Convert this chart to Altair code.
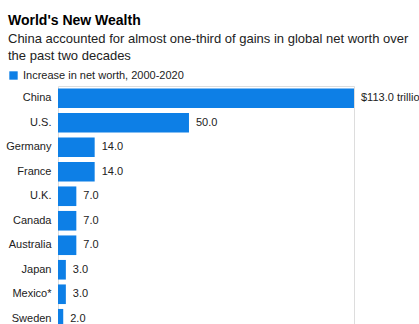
import altair as alt
import pandas as pd

countries = ["China", "U.S.", "Germany", "France", "U.K.", "Canada",
             "Australia", "Japan", "Mexico*", "Sweden"]
values = [113.0, 50.0, 14.0, 14.0, 7.0, 7.0, 7.0, 3.0, 3.0, 2.0]
labels = ["$113.0 trillion", "50.0", "14.0", "14.0", "7.0", "7.0",
          "7.0", "3.0", "3.0", "2.0"]
series = "Increase in net worth, 2000-2020"

df = pd.DataFrame({"country": countries, "value": values,
                   "label": labels, "series": series})

FONT = "Liberation Sans"
BLUE = "#0d7fe6"

base = alt.Chart(df).encode(
    y=alt.Y("country:N", sort=countries, title=None,
            scale=alt.Scale(paddingInner=0.2, paddingOuter=0.1),
            axis=alt.Axis(ticks=False, domain=False, labelPadding=7,
                          labelFontSize=11, labelColor="#222222",
                          labelFont=FONT)),
)

bars = base.mark_bar(color=BLUE).encode(
    x=alt.X("value:Q", axis=None, scale=alt.Scale(domain=[0, 113], nice=False)),
    color=alt.Color("series:N", scale=alt.Scale(range=[BLUE]),
                    legend=alt.Legend(title=None, orient="none",
                                      legendX=-50, legendY=-16,
                                      symbolType="square", symbolSize=70,
                                      symbolStrokeWidth=0,
                                      labelFontSize=11, labelFont=FONT,
                                      labelColor="#222222", labelLimit=400,
                                      symbolOffset=0, padding=0)),
)

text = base.mark_text(align="left", dx=7, fontSize=11, font=FONT,
                      color="#222222").encode(
    x=alt.X("value:Q"),
    text="label:N",
)

chart = alt.layer(bars, text).properties(
    width=296,
    height=245,
    autosize=alt.AutoSizeParams(type="none"),
    padding={"left": 58, "top": 86, "right": 65, "bottom": 10},
    title=alt.TitleParams(
        text="World's New Wealth",
        subtitle=["China accounted for almost one-third of gains in global net worth over",
                  "the past two decades"],
        anchor="start", frame="group", dx=-50, offset=7,
        font=FONT, fontSize=14, fontWeight="bold", color="#000000",
        subtitleFont=FONT, subtitleFontSize=13, subtitleColor="#222222",
        subtitlePadding=5, subtitleLineHeight=17,
    ),
).configure_view(stroke=None).configure(background="white")

chart.save("out.html", embed_options={"renderer": "svg", "actions": False})
